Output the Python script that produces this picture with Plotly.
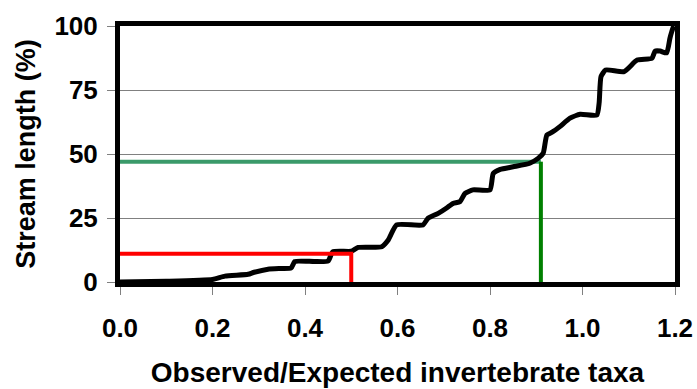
import plotly.graph_objects as go

# Cumulative stream length vs. observed/expected invertebrate taxa
oe_ratio = [0.0, 0.1, 0.2, 0.227, 0.277, 0.29, 0.32, 0.35, 0.37, 0.378, 0.42,
            0.45, 0.46, 0.5, 0.515, 0.566, 0.58, 0.598, 0.655, 0.666, 0.688,
            0.707, 0.72, 0.735, 0.746, 0.763, 0.8, 0.807, 0.822, 0.85, 0.886,
            0.904, 0.915, 0.923, 0.936, 0.951, 0.973, 0.995, 1.031, 1.036,
            1.04, 1.05, 1.09, 1.118, 1.15, 1.157, 1.168, 1.182, 1.189, 1.193,
            1.197]
stream_pct = [0.0, 0.3, 1.0, 2.3, 3.0, 3.8, 5.0, 5.3, 5.5, 8.0, 8.0,
              8.2, 11.8, 12.0, 13.5, 13.8, 16.4, 22.3, 22.3, 24.9, 26.8,
              29.0, 30.7, 31.4, 34.6, 36.0, 36.0, 42.4, 44.0, 45.0, 46.4,
              48.3, 50.3, 57.4, 58.7, 60.7, 64.0, 65.5, 65.2, 70.0,
              80.2, 82.8, 82.2, 86.7, 87.4, 90.2, 90.2, 89.5, 95.2, 97.8,
              100.0]

# Reference thresholds (O/E value, stream length %)
red_oe, red_pct = 0.5, 11
green_oe, green_pct = 0.91, 47

x_ticks = [0.0, 0.2, 0.4, 0.6, 0.8, 1.0, 1.2]
x_ticklabels = ["0.0", "0.2", "0.4", "0.6", "0.8", "1.0", "1.2"]
y_ticks = [0, 25, 50, 75, 100]
y_ticklabels = ["0", "25", "50", "75", "100"]

FONT = "Arial, 'Liberation Sans', sans-serif"

fig = go.Figure()

# green threshold: horizontal and vertical legs
fig.add_trace(go.Scatter(x=[0, green_oe], y=[green_pct, green_pct], mode="lines",
                         line=dict(color="#3a9a6a", width=4), hoverinfo="skip"))
fig.add_trace(go.Scatter(x=[green_oe, green_oe], y=[green_pct, 0], mode="lines",
                         line=dict(color="#008000", width=4), hoverinfo="skip"))

# cumulative curve
fig.add_trace(go.Scatter(x=oe_ratio, y=stream_pct, mode="lines",
                         line=dict(color="black", width=5, shape="spline", smoothing=0.5),
                         hoverinfo="skip"))

# red threshold
fig.add_trace(go.Scatter(x=[0, red_oe, red_oe], y=[red_pct, red_pct, 0], mode="lines",
                         line=dict(color="#ff0000", width=4), hoverinfo="skip"))

fig.update_layout(
    width=697, height=389,
    margin=dict(l=120, r=22, t=26, b=107),
    paper_bgcolor="white", plot_bgcolor="white",
    showlegend=False,
    font=dict(family=FONT, color="black"),
)
fig.update_xaxes(
    range=[0, 1.2], tickvals=x_ticks, ticktext=x_ticklabels,
    tickfont=dict(size=26, family=FONT, weight="bold"),
    ticks="outside", ticklen=8, tickcolor="#808080", tickwidth=1,
    ticklabelstandoff=11,
    showgrid=False, zeroline=False, automargin=False,
    showline=True, linecolor="black", linewidth=5, mirror=True,
    title=dict(text="<b>Observed/Expected invertebrate taxa</b>",
               font=dict(size=28, family=FONT), standoff=22),
)
fig.update_yaxes(
    range=[0, 100], tickvals=y_ticks, ticktext=y_ticklabels,
    tickfont=dict(size=26, family=FONT, weight="bold"),
    ticks="outside", ticklen=8, tickcolor="#808080", tickwidth=1,
    ticklabelstandoff=4,
    showgrid=True, gridcolor="#808080", gridwidth=1,
    zeroline=False, automargin=False,
    showline=True, linecolor="black", linewidth=5, mirror=True,
    title=dict(text="<b>Stream length (%)</b>", font=dict(size=27, family=FONT),
               standoff=12),
)

fig.write_html("out.html")
